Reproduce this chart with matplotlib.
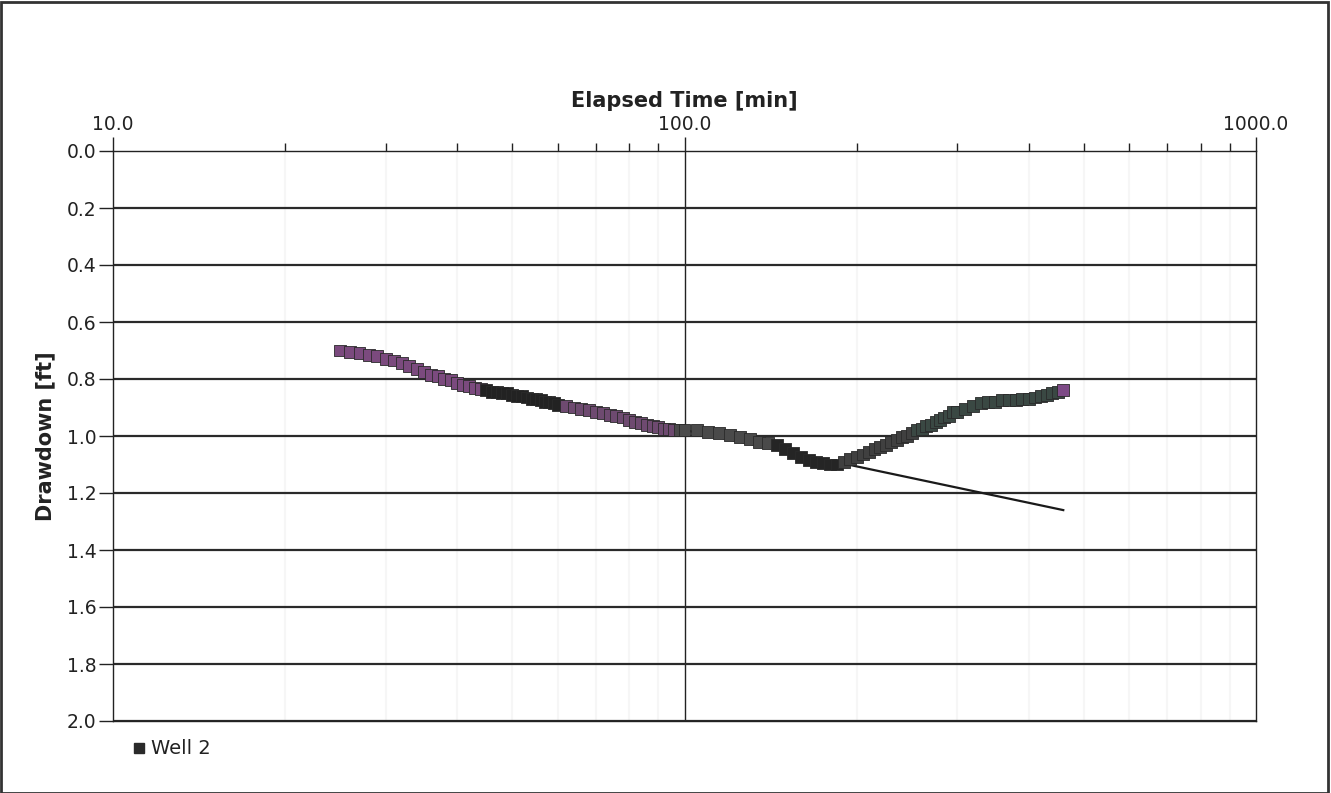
import numpy as np
import matplotlib.pyplot as plt
from matplotlib.lines import Line2D
from matplotlib.ticker import FixedLocator, NullFormatter

# elapsed time [min] and drawdown [ft]
time_min = [25, 26, 27, 28, 29, 30, 31, 32, 33, 34, 35, 36, 37, 38, 39, 40,
            41, 42, 43, 44, 45, 46, 47, 48, 49, 50, 51, 52, 53, 54, 55, 56,
            57, 58, 59, 60,
            62, 64, 66, 68, 70, 72, 74, 76, 78, 80, 82, 84, 86, 88, 90, 92,
            94, 96, 98, 100,
            105, 110, 115, 120, 125, 130, 135, 140, 145, 150, 155, 160, 165,
            170, 175, 180,
            185, 190, 195, 200, 205, 210, 215, 220, 225, 230, 235, 240, 245,
            250, 255, 260, 265, 270, 275, 280, 285, 290, 295, 300,
            310, 320, 330, 340, 350, 360, 370, 380, 390, 400, 410, 420, 430,
            440, 450, 460]
drawdown = [0.700, 0.705, 0.710, 0.715, 0.720, 0.730, 0.735, 0.745, 0.755,
            0.765, 0.775, 0.785, 0.790, 0.800, 0.805, 0.815,
            0.820, 0.825, 0.830, 0.835, 0.840, 0.845, 0.845, 0.850, 0.850,
            0.855, 0.860, 0.860, 0.865, 0.870, 0.870, 0.875, 0.880, 0.880,
            0.885, 0.890,
            0.895, 0.900, 0.905, 0.910, 0.915, 0.920, 0.925, 0.930, 0.935,
            0.945, 0.950, 0.955, 0.960, 0.965, 0.970, 0.975, 0.975, 0.980,
            0.980, 0.980,
            0.980, 0.985, 0.990, 0.995, 1.005, 1.010, 1.020, 1.025, 1.030,
            1.045, 1.060, 1.075, 1.085, 1.090, 1.095, 1.100,
            1.100, 1.090, 1.080, 1.075, 1.065, 1.055, 1.045, 1.040, 1.030,
            1.020, 1.015, 1.005, 1.000, 0.990, 0.980, 0.975, 0.965, 0.960,
            0.950, 0.945, 0.935, 0.930, 0.915, 0.915,
            0.905, 0.895, 0.885, 0.880, 0.880, 0.875, 0.875, 0.875, 0.870,
            0.870, 0.865, 0.860, 0.855, 0.850, 0.845, 0.840]

# straight-line fit drawn through the late data
fit_time = [40, 460]
fit_drawdown = [0.81, 1.26]

x_major = [10, 100, 1000]
x_labels = ['10.0', '100.0', '1000.0']
y_ticks = [0.0, 0.2, 0.4, 0.6, 0.8, 1.0, 1.2, 1.4, 1.6, 1.8, 2.0]


def marker_color(t):
    # scanned marker colours drift along the series
    if t < 45:
        return '#7b4a7e'
    if t < 61:
        return '#222222'
    if t < 98:
        return '#6e4a70'
    if t < 145:
        return '#4a4a4a'
    if t < 186:
        return '#252525'
    if t < 255:
        return '#404040'
    if t < 455:
        return '#3a4843'
    return '#7d4a86'


fig = plt.figure(figsize=(13.31, 7.93), dpi=100)
ax = fig.add_axes([113 / 1331, 1 - 721 / 793, (1256 - 113) / 1331, (721 - 151) / 793])

ax.set_xscale('log')
ax.set_xlim(10, 1000)
ax.set_ylim(2.0, 0.0)

# faint minor verticals, dark horizontals
minor = [m * d for d in (10, 100) for m in range(2, 10)]
for xm in minor:
    ax.axvline(xm, color='#f6f6f6', lw=1.5, zorder=0)
ax.axvline(100, color='#222222', lw=1.0, zorder=1)
for yv in y_ticks[1:]:
    ax.axhline(yv, color='#2a2a2a', lw=1.6, zorder=1)

ax.plot(fit_time, fit_drawdown, color='#1a1a1a', lw=1.6, zorder=2)

colors = [marker_color(t) for t in time_min]
ax.scatter(time_min, drawdown, marker='s', s=74, c=colors,
           edgecolors='#2a2a2a', linewidths=0.6, zorder=3)

ax.xaxis.set_ticks_position('top')
ax.xaxis.set_label_position('top')
ax.xaxis.set_major_locator(FixedLocator(x_major))
ax.xaxis.set_minor_locator(FixedLocator(minor))
ax.xaxis.set_minor_formatter(NullFormatter())
ax.set_xticklabels(x_labels)
ax.set_yticks(y_ticks)
ax.set_yticklabels(['%.1f' % v for v in y_ticks])

ax.tick_params(axis='x', which='major', direction='out', length=10, width=1,
               labelsize=13.5, pad=2, colors='#222222')
ax.tick_params(axis='x', which='minor', direction='out', length=6, width=1,
               colors='#222222')
ax.tick_params(axis='y', direction='out', length=10, width=1, labelsize=13.5,
               pad=2, colors='#222222')

for sp in ax.spines.values():
    sp.set_color('#222222')
    sp.set_linewidth(1.0)

ax.set_xlabel('Elapsed Time [min]', fontsize=15, fontweight='bold', labelpad=6,
              color='#222222')
ax.set_ylabel('Drawdown [ft]', fontsize=15, fontweight='bold', labelpad=8,
              color='#222222')

handle = Line2D([], [], marker='s', color='none', markerfacecolor='#2a2a2a',
                markeredgecolor='#2a2a2a', markersize=7)
fig.legend([handle], ['Well 2'], loc='center left',
           bbox_to_anchor=(112 / 1331, 1 - 749 / 793), frameon=False,
           fontsize=14, handletextpad=0.1, handlelength=1.0,
           labelcolor='#222222')

# outer border of the scanned figure
fig.patches.append(plt.Rectangle((0.001, 0.0), 0.997, 0.997,
                                 transform=fig.transFigure, fill=False,
                                 edgecolor='#333333', lw=2))

fig.savefig('out.png', dpi=100)
